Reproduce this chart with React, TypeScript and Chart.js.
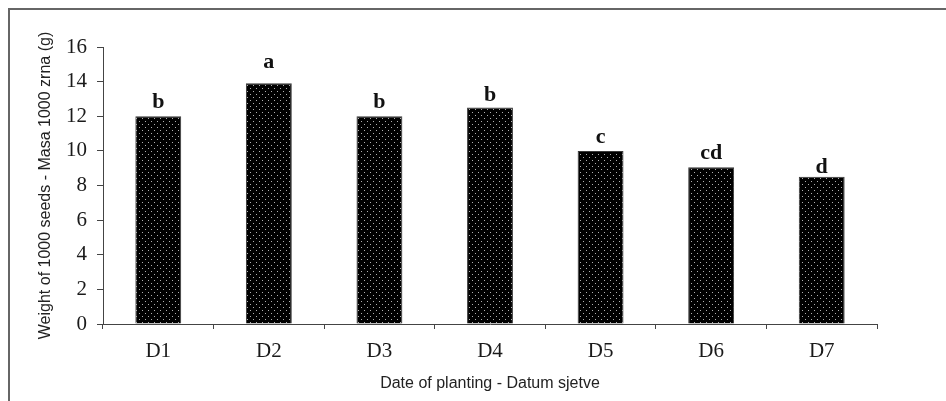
import React, { useEffect, useRef } from "react";
import { Chart, registerables } from "chart.js";

Chart.register(...registerables);

const categories = ["D1", "D2", "D3", "D4", "D5", "D6", "D7"];
const weights = [12.0, 13.9, 12.0, 12.5, 10.0, 9.05, 8.5];
const letters = ["b", "a", "b", "b", "c", "cd", "d"];
const letterLevels = [12.5, 14.8, 12.5, 12.9, 10.45, 9.55, 8.75];
const yTicks = [0, 2, 4, 6, 8, 10, 12, 14, 16];
const xTitle = "Date of planting - Datum sjetve";
const yTitle = "Weight of 1000 seeds - Masa 1000 zrna (g)";

function makePattern(): CanvasPattern | string {
  const tile = document.createElement("canvas");
  tile.width = 6;
  tile.height = 6;
  const c = tile.getContext("2d");
  if (!c) return "#000";
  c.fillStyle = "#000";
  c.fillRect(0, 0, 6, 6);
  c.fillStyle = "#b0b0b0";
  c.fillRect(1, 1, 1, 1);
  c.fillRect(4, 4, 1, 1);
  const p = c.createPattern(tile, "repeat");
  return p || "#000";
}

const letterPlugin = {
  id: "letters",
  afterDatasetsDraw(chart: any) {
    const ctx = chart.ctx;
    const meta = chart.getDatasetMeta(0);
    const yScale = chart.scales.y;
    ctx.save();
    ctx.font = "bold 22px 'Liberation Serif'";
    ctx.fillStyle = "#111";
    ctx.textAlign = "center";
    ctx.textBaseline = "alphabetic";
    meta.data.forEach((bar: any, i: number) => {
      ctx.fillText(letters[i], bar.x, yScale.getPixelForValue(letterLevels[i]));
    });
    ctx.restore();
  },
};

export default function App() {
  const ref = useRef<HTMLCanvasElement>(null);
  useEffect(() => {
    if (!ref.current) return;
    const chart = new Chart(ref.current, {
      type: "bar",
      data: {
        labels: categories,
        datasets: [
          {
            data: weights,
            backgroundColor: makePattern() as any,
            borderColor: "#3a3a3a",
            borderWidth: 1,
            categoryPercentage: 1,
            barPercentage: 0.415,
          },
        ],
      },
      options: {
        animation: false,
        responsive: true,
        maintainAspectRatio: false,
        layout: { padding: { top: 47, right: 69, left: 0, bottom: 0 } },
        plugins: { legend: { display: false }, tooltip: { enabled: false } },
        scales: {
          x: {
            offset: true,
            grid: {
              offset: true,
              drawOnChartArea: false,
              drawTicks: true,
              tickLength: 5,
              color: "#444",
            },
            border: { color: "#444", width: 1 },
            ticks: {
              color: "#1a1a1a",
              padding: 10,
              font: { family: "'Liberation Serif'", size: 21 },
            },
            title: {
              display: true,
              text: xTitle,
              color: "#222",
              font: { family: "'Liberation Sans'", size: 16 },
              padding: { top: 0, bottom: 8 },
            },
            afterFit: (s: any) => {
              s.height = 77;
            },
          },
          y: {
            min: 0,
            max: 16,
            afterBuildTicks: (s: any) => {
              s.ticks = yTicks.map((v) => ({ value: v }));
            },
            grid: {
              drawOnChartArea: false,
              drawTicks: true,
              tickLength: 6,
              color: "#444",
            },
            border: { color: "#444", width: 1 },
            ticks: {
              color: "#1a1a1a",
              padding: 10,
              font: { family: "'Liberation Serif'", size: 21 },
            },
            title: {
              display: true,
              text: yTitle,
              color: "#222",
              font: { family: "'Liberation Sans'", size: 16 },
              padding: { top: 36, bottom: 0 },
            },
            afterFit: (s: any) => {
              s.width = 103;
            },
          },
        },
      },
      plugins: [letterPlugin],
    });
    return () => chart.destroy();
  }, []);
  return (
    <div style={{ position: "fixed", left: 0, top: 0, width: 946, height: 401, background: "#fff" }}>
      <div
        style={{
          position: "absolute",
          left: 8,
          top: 8,
          right: 0,
          bottom: 0,
          borderTop: "2px solid #666",
          borderLeft: "2px solid #666",
        }}
      />
      <canvas ref={ref} style={{ position: "absolute", left: 0, top: 0 }} />
    </div>
  );
}
